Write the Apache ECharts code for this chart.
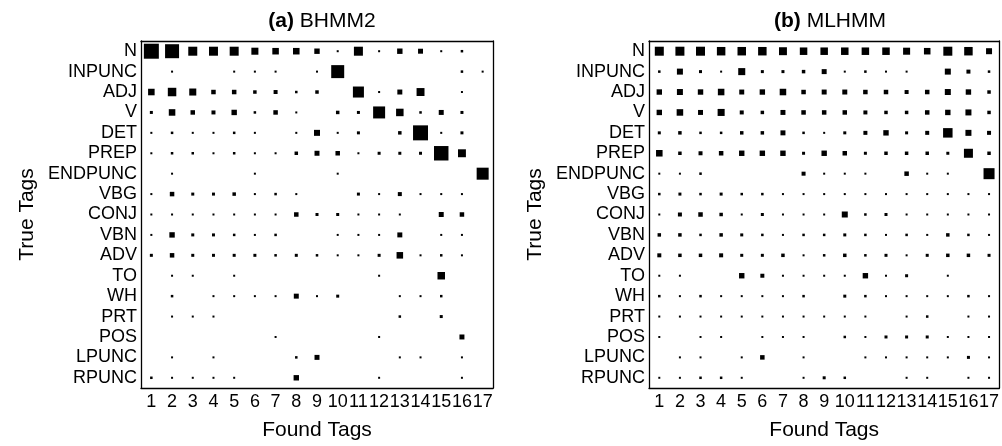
<!DOCTYPE html>
<html><head><meta charset="utf-8">
<script src="https://cdn.jsdelivr.net/npm/echarts@6/dist/echarts.min.js"></script>
<style>html,body{margin:0;padding:0;background:#fff}#c{width:1002px;height:446px}</style>
</head><body><div id="c"></div>
<script>
const rowLabels = ['N','INPUNC','ADJ','V','DET','PREP','ENDPUNC','VBG','CONJ','VBN','ADV','TO','WH','PRT','POS','LPUNC','RPUNC'];
const colLabels = ['1','2','3','4','5','6','7','8','9','10','11','12','13','14','15','16','17'];
const panelTitles = ['(a)', 'BHMM2', '(b)', 'MLHMM'];

// magnitudes (area proportional), rows = true tags, cols = found tags
const bhmm2 = [
 [100, 87, 36, 36, 36, 22, 19, 19, 13, 1.8, 36, 1.8, 13, 11, 1.8, 2.8, 0],
 [0, 1.8, 0, 0, 1.8, 1.8, 1.8, 0, 1.8, 75, 0, 0, 0, 0, 0, 2.8, 1.8],
 [19, 32, 22, 9, 9, 5.4, 7.1, 2.8, 5.4, 0, 54, 1.8, 11, 28, 0, 1, 0],
 [4, 19, 9, 7.1, 13, 2.8, 9, 1.8, 0, 5.4, 4, 64, 25, 2.8, 11, 4, 0],
 [1.8, 2.8, 1.8, 1.8, 2.8, 1.8, 0, 1.8, 16, 1.8, 4, 0, 5.4, 100, 1.8, 4, 0],
 [1.8, 2.8, 2.8, 1.8, 2.8, 1.8, 1.8, 5.4, 11, 9, 1.8, 4, 4, 4, 93, 28, 0],
 [0, 1, 0, 0, 0, 1, 0, 0, 0, 1, 0, 0, 0, 0, 0, 0, 64],
 [1.8, 9, 4, 4, 5.4, 1.8, 2.8, 1.8, 0, 0, 4, 1.8, 7.1, 1.8, 1.8, 1.8, 0],
 [1, 1.8, 1, 1, 1, 1, 1, 9, 4, 4, 1, 1, 1, 0, 11, 9, 0],
 [1.8, 13, 4, 4, 2.8, 1.8, 2.8, 0, 0, 1, 1.8, 1, 11, 0, 1.8, 1.8, 0],
 [4, 9, 4, 4, 4, 4, 2.8, 4, 2.8, 1, 1.8, 4, 19, 1.8, 2.8, 1, 0],
 [0, 1, 1, 0, 1, 0, 0, 0, 0, 0, 0, 1.8, 0, 0, 25, 0, 0],
 [0, 2.8, 0, 1.8, 1.8, 1, 1, 11, 1.8, 4, 0, 0, 1, 1.8, 2.8, 0, 0],
 [0, 1.8, 1.8, 1.8, 0, 0, 0, 0, 0, 0, 0, 0, 2.8, 0, 4, 0, 0],
 [0, 0, 0, 0, 0, 0, 1, 0, 0, 0, 0, 1.8, 0, 0, 0, 11, 0],
 [0, 1, 0, 1, 0, 0, 0, 2.8, 11, 0, 0, 0, 1.8, 1.8, 0, 1.8, 0],
 [2.8, 1, 1, 1, 1, 0, 0, 13, 0, 0, 0, 1, 0, 0, 0, 1, 0]
];
const mlhmm = [
 [36, 36, 36, 32, 32, 32, 28, 25, 25, 25, 25, 25, 22, 19, 36, 32, 16],
 [2.8, 16, 4, 1, 22, 4, 4, 5.4, 11, 1, 2.8, 1, 1, 0, 16, 7.1, 2.8],
 [13, 16, 13, 19, 11, 13, 19, 9, 11, 11, 9, 9, 7.1, 9, 16, 13, 5.4],
 [13, 19, 11, 22, 7.1, 5.4, 11, 9, 9, 9, 7.1, 5.4, 5.4, 9, 13, 16, 5.4],
 [4, 5.4, 2.8, 2.8, 5.4, 5.4, 11, 2.8, 1.8, 4, 7.1, 13, 4, 7.1, 40, 16, 7.1],
 [19, 5.4, 7.1, 9, 13, 13, 13, 4, 13, 9, 4, 5.4, 5.4, 5.4, 4, 36, 5.4],
 [1, 1, 2.8, 0, 0, 0, 0, 7.1, 1.8, 1, 1, 0, 9, 1, 1, 0, 54],
 [2.8, 4, 2.8, 4, 2.8, 2.8, 1.8, 1, 1.8, 1.8, 1.8, 1.8, 1.8, 1.8, 1.8, 1.8, 1.8],
 [1.8, 7.1, 9, 5.4, 1.8, 4, 1, 1, 1, 16, 2.8, 4, 1.8, 1, 1, 1, 1],
 [5.4, 5.4, 2.8, 5.4, 4, 2.8, 1.8, 2.8, 2.8, 4, 2.8, 1, 2.8, 1.8, 5.4, 2.8, 1.8],
 [7.1, 5.4, 5.4, 7.1, 4, 4, 5.4, 1.8, 2.8, 5.4, 2.8, 4, 1.8, 4, 5.4, 5.4, 4],
 [1, 1.8, 0, 0, 13, 7.1, 1.8, 1, 1.8, 1.8, 13, 1, 4, 0, 1, 0, 0],
 [2.8, 1, 2.8, 1, 1.8, 1, 1, 2.8, 0, 4, 2.8, 1.8, 1.8, 1, 1, 2.8, 1.8],
 [1, 1.8, 1, 1, 1, 1, 1, 1.8, 1, 1.8, 1, 0, 0.4, 2.8, 0, 1, 0.4],
 [1, 0, 1, 1.8, 0, 0.4, 1, 1, 0, 2.8, 1, 4, 4, 4, 1, 0.4, 0.4],
 [0, 1, 1, 0, 1.8, 9, 0, 1, 0, 0, 1, 1, 1.8, 1, 1, 4, 0.4],
 [1, 1, 2.8, 2.8, 1, 0, 0, 1, 4, 2.8, 0, 0, 1.8, 0.4, 0, 0.4, 1.8]
];

function toData(m) {
  const out = [];
  m.forEach((row, r) => row.forEach((v, c) => { if (v > 0) out.push([c, r, v]); }));
  return out;
}
const FONT = 'Liberation Sans, Arial, sans-serif';
const grids = [
  { left: 141, top: 41, width: 352, height: 353 },
  { left: 649, top: 41, width: 352, height: 353 }
];
const tick = { alignWithLabel: true, inside: true, length: 4, lineStyle: { color: '#000', width: 1 } };
const axLine = { show: true, onZero: false, lineStyle: { color: '#000', width: 1.3 } };
const xAxes = [], yAxes = [];
[0, 1].forEach(g => {
  xAxes.push({ type: 'category', gridIndex: g, data: colLabels, position: 'bottom', boundaryGap: true,
    axisLine: axLine, axisTick: tick, splitLine: { show: false },
    axisLabel: { interval: 0, color: '#000', fontSize: 18, fontFamily: FONT, margin: 5 },
    name: 'Found Tags', nameLocation: 'middle', nameGap: 32,
    nameTextStyle: { color: '#000', fontSize: 21, fontFamily: FONT } });
  xAxes.push({ type: 'category', gridIndex: g, data: colLabels, position: 'top', boundaryGap: true,
    axisLine: axLine, axisTick: tick, axisLabel: { show: false }, splitLine: { show: false } });
  yAxes.push({ type: 'category', gridIndex: g, data: rowLabels, inverse: true, position: 'left', boundaryGap: true,
    axisLine: axLine, axisTick: tick, splitLine: { show: false },
    axisLabel: { interval: 0, color: '#000', fontSize: 18, fontFamily: FONT, margin: 4 },
    name: 'True Tags', nameLocation: 'middle', nameGap: 103,
    nameTextStyle: { color: '#000', fontSize: 21, fontFamily: FONT } });
  yAxes.push({ type: 'category', gridIndex: g, data: rowLabels, inverse: true, position: 'right', boundaryGap: true,
    axisLine: axLine, axisTick: tick, axisLabel: { show: false }, splitLine: { show: false } });
});
const mats = [bhmm2, mlhmm];
const series = mats.map((m, g) => ({
  type: 'scatter', xAxisIndex: g * 2, yAxisIndex: g * 2, symbol: 'rect',
  symbolSize: d => Math.max(2, 1.5 * Math.sqrt(d[2])),
  itemStyle: { color: '#000', opacity: 1 }, silent: true, animation: false,
  data: toData(m)
}));
const chart = echarts.init(document.getElementById('c'), null, { renderer: 'canvas' });
chart.setOption({
  backgroundColor: '#fff',
  animation: false,
  title: [0, 1].map(g => ({
    text: '{b|' + panelTitles[g * 2] + '} ' + panelTitles[g * 2 + 1],
    left: grids[g].left + grids[g].width / 2, top: 6, textAlign: 'center',
    textStyle: { fontSize: 21, fontFamily: FONT, color: '#000', fontWeight: 'normal',
      rich: { b: { fontWeight: 'bold', fontSize: 21, fontFamily: FONT, color: '#000' } } }
  })),
  grid: grids,
  xAxis: xAxes,
  yAxis: yAxes,
  series: series
});
</script></body></html>
